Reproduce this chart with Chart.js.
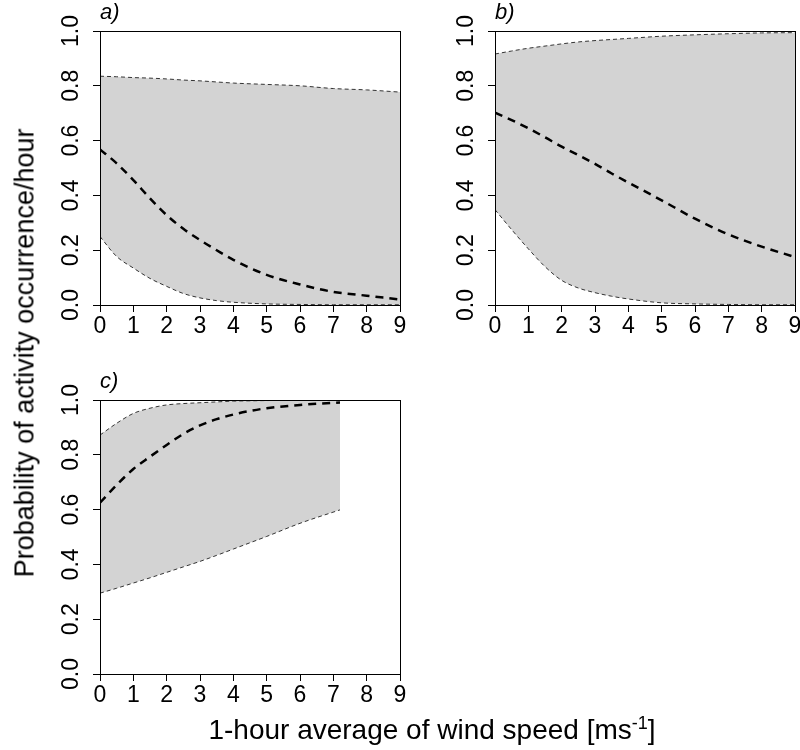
<!DOCTYPE html>
<html>
<head>
<meta charset="utf-8">
<script src="https://cdn.jsdelivr.net/npm/chart.js@4.4.1/dist/chart.umd.min.js"></script>
<style>
  body { margin: 0; background: #fff; font-family: 'Liberation Sans', Arial, sans-serif; }
  #page { position: relative; width: 800px; height: 750px; overflow: hidden; }
  .panel { position: absolute; }
  .tag { position: absolute; font-style: italic; font-size: 22px; color: #000; }
  #ytitle { position: absolute; left: 25px; top: 353px; transform: translate(-50%, -50%) rotate(-90deg);
            white-space: nowrap; font-size: 27px; color: #000; }
  #xtitle { position: absolute; left: 432px; top: 716px; transform: translateX(-50%);
            white-space: nowrap; font-size: 28px; line-height: 1; color: #000; }
  #xtitle sup { font-size: 18px; vertical-align: 10px; line-height: 0; }
</style>
</head>
<body>
<div id="page">
  <div class="panel" style="left:40px; top:0px; width:370px; height:350px;"><canvas id="chart-a"></canvas></div>
  <div class="panel" style="left:435px; top:0px; width:370px; height:350px;"><canvas id="chart-b"></canvas></div>
  <div class="panel" style="left:40px; top:369px; width:370px; height:350px;"><canvas id="chart-c"></canvas></div>
  <div class="tag" style="left:100px; top:-1px;">a)</div>
  <div class="tag" style="left:495px; top:-1px;">b)</div>
  <div class="tag" style="left:100px; top:368px;">c)</div>
  <div id="ytitle">Probability of activity occurrence/hour</div>
  <div id="xtitle">1-hour average of wind speed [ms<sup>-1</sup>]</div>
</div>
<script>
// wind speed (x) and probability curves
const xA = [0, 0.5, 1, 1.5, 2, 2.5, 3, 3.5, 4, 5, 6, 7, 8, 9];
const upperA = [0.835, 0.833, 0.83, 0.828, 0.825, 0.821, 0.818, 0.814, 0.81, 0.805, 0.80, 0.79, 0.785, 0.777];
const meanA = [0.568, 0.517, 0.456, 0.389, 0.328, 0.278, 0.237, 0.2, 0.165, 0.11, 0.075, 0.048, 0.034, 0.02];
const lowerA = [0.25, 0.177, 0.135, 0.097, 0.068, 0.042, 0.026, 0.016, 0.01, 0.004, 0.002, 0.001, 0.001, 0.001];

const xB = [0, 0.5, 1, 1.5, 2, 2.5, 3, 3.5, 4, 5, 6, 7, 8, 9];
const upperB = [0.916, 0.927, 0.937, 0.945, 0.953, 0.96, 0.965, 0.969, 0.973, 0.981, 0.986, 0.99, 0.993, 0.994];
const meanB = [0.702, 0.675, 0.645, 0.612, 0.578, 0.547, 0.515, 0.48, 0.447, 0.382, 0.315, 0.258, 0.213, 0.175];
const lowerB = [0.348, 0.275, 0.205, 0.14, 0.09, 0.062, 0.045, 0.032, 0.022, 0.008, 0.004, 0.002, 0.001, 0.001];

const xC = [0, 0.5, 1, 1.5, 2, 2.5, 3, 3.5, 4, 4.5, 5, 6, 7.2];
const upperC = [0.872, 0.915, 0.951, 0.97, 0.982, 0.987, 0.99, 0.993, 0.996, 0.997, 0.998, 0.999, 1.0];
const meanC = [0.625, 0.69, 0.748, 0.793, 0.836, 0.876, 0.907, 0.93, 0.947, 0.96, 0.97, 0.982, 0.991];
const lowerC = [0.295, 0.313, 0.332, 0.351, 0.371, 0.391, 0.411, 0.433, 0.456, 0.479, 0.502, 0.55, 0.599];

const xTicks = [0, 1, 2, 3, 4, 5, 6, 7, 8, 9];
const yTicks = [0, 0.2, 0.4, 0.6, 0.8, 1.0];

const FONT = "'Liberation Sans', Arial, sans-serif";
const FILL = 'rgb(211, 211, 211)';

const boxPlugin = {
    id: 'box',
    afterDraw: (chart) => {
        const { ctx, chartArea: a } = chart;
        ctx.save();
        ctx.strokeStyle = '#000';
        ctx.lineWidth = 1;
        ctx.strokeRect(Math.round(a.left) + 0.5, Math.round(a.top) + 0.5,
            Math.round(a.right - a.left), Math.round(a.bottom - a.top));
        ctx.restore();
    }
};

const pts = (xs, ys) => xs.map((x, i) => ({ x, y: ys[i] }));

const makePanel = (id, xs, lower, upper, mean) => {
    new Chart(document.getElementById(id), {
        type: 'line',
        data: {
            datasets: [{
                data: pts(xs, lower),
                borderColor: '#333',
                borderWidth: 1,
                borderDash: [4, 3],
                fill: false,
            }, {
                data: pts(xs, upper),
                borderColor: '#333',
                borderWidth: 1,
                borderDash: [4, 3],
                backgroundColor: FILL,
                fill: '-1',
            }, {
                data: pts(xs, mean),
                borderColor: '#000',
                borderWidth: 2.5,
                borderDash: [8, 6],
                fill: false,
            }]
        },
        options: {
            responsive: true,
            maintainAspectRatio: false,
            animation: false,
            layout: { padding: { top: 31, right: 10, bottom: 0, left: 0 } },
            elements: {
                point: { radius: 0 },
                line: { cubicInterpolationMode: 'monotone' }
            },
            plugins: {
                legend: { display: false },
                tooltip: { enabled: false },
                filler: { drawTime: 'beforeDatasetsDraw' }
            },
            scales: {
                x: {
                    type: 'linear',
                    min: 0,
                    max: 9,
                    afterBuildTicks: (s) => { s.ticks = xTicks.map(v => ({ value: v })); },
                    afterFit: (s) => { s.height = 45; s.paddingLeft = 0; s.paddingRight = 0; },
                    grid: { drawOnChartArea: false, drawTicks: true, tickLength: 7, color: '#000' },
                    border: { display: true, color: '#000' },
                    ticks: {
                        autoSkip: false, maxRotation: 0, minRotation: 0, padding: 1,
                        color: '#000', font: { family: FONT, size: 23 }
                    }
                },
                y: {
                    min: 0,
                    max: 1,
                    afterBuildTicks: (s) => { s.ticks = yTicks.map(v => ({ value: v })); },
                    afterFit: (s) => { s.width = 60; s.paddingTop = 0; s.paddingBottom = 0; },
                    grid: { drawOnChartArea: false, drawTicks: true, tickLength: 7, color: '#000' },
                    border: { display: true, color: '#000' },
                    ticks: {
                        minRotation: 90, maxRotation: 90, crossAlign: 'center', padding: 5,
                        color: '#000', font: { family: FONT, size: 23 },
                        callback: (v) => Number(v).toFixed(1)
                    }
                }
            }
        },
        plugins: [boxPlugin]
    });
};

makePanel('chart-a', xA, lowerA, upperA, meanA);
makePanel('chart-b', xB, lowerB, upperB, meanB);
makePanel('chart-c', xC, lowerC, upperC, meanC);
</script>
</body>
</html>
